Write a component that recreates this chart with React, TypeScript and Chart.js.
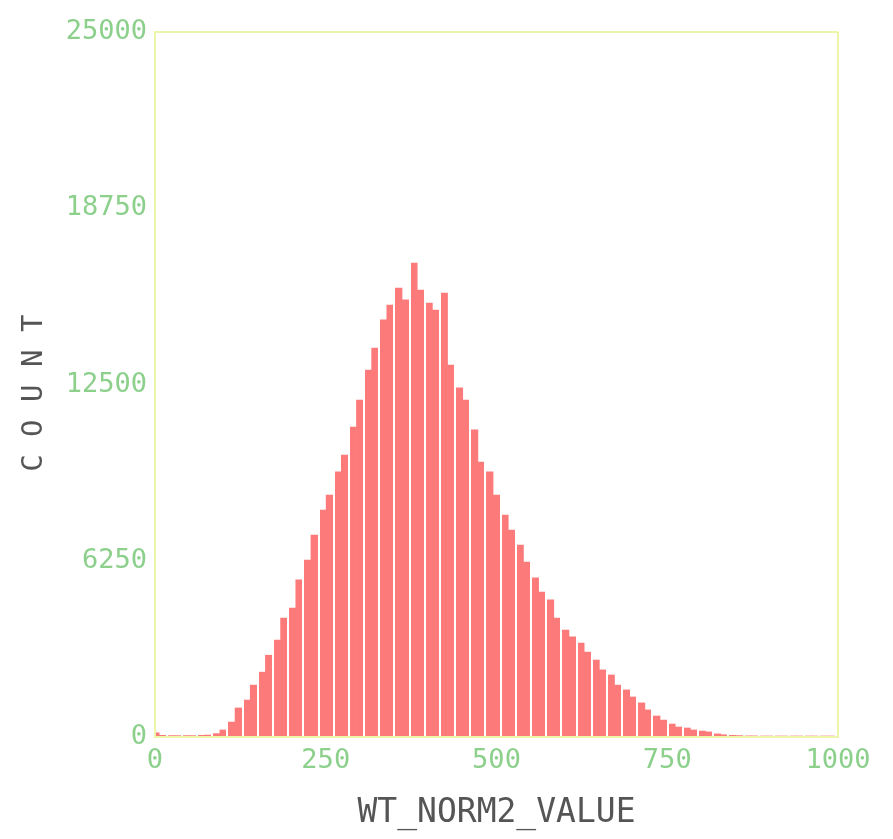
import { useEffect, useRef } from 'react';
import { Chart, registerables } from 'chart.js';

Chart.register(...registerables);

// Axis ranges and ticks
const X_MIN = 0;
const X_MAX = 1000;
const Y_MIN = 0;
const Y_MAX = 25000;
const X_TICKS = [0, 250, 500, 750, 1000];
const Y_TICKS = [0, 6250, 12500, 18750, 25000];

// Histogram bins (fine bins, white separators every GROUP_SIZE bins)
const BIN_START = -5;
const BIN_WIDTH = 1000 / 90;
const GROUP_SIZE = 2;

// Counts per fine bin
const COUNTS = [
  150, 60, 50, 50, 50, 50, 60, 70, 120, 250,
  530, 1030, 1310, 1840, 2300, 2900, 3440, 4220, 4570, 5570,
  6270, 7160, 8050, 8580, 9400, 10000, 10990, 11950, 13010, 13790,
  14790, 15320, 15920, 15500, 16810, 15850, 15390, 15140, 15740, 13190,
  12380, 11950, 10890, 9750, 9400, 8580, 7870, 7340, 6810, 6200,
  5640, 5140, 4860, 4220, 3790, 3550, 3330, 3010, 2730, 2380,
  2200, 1840, 1670, 1420, 1210, 960, 745, 600, 460, 355,
  320, 250, 210, 180, 110, 80, 60, 50, 40, 40,
  30, 30, 30, 25, 25, 20, 20, 20, 15, 15,
];

const X_TITLE = 'WT_NORM2_VALUE';
const Y_TITLE = 'C O U N T ';

const FRAME = 'rgb(236,245,168)';
const TICK_COLOR = 'rgb(140,208,140)';
const TITLE_COLOR = '#555555';
const BAR_COLOR = 'rgb(252,122,122)';

export default function App() {
  const ref = useRef<HTMLCanvasElement | null>(null);

  useEffect(() => {
    document.body.style.margin = '0';
    const canvas = ref.current;
    if (!canvas) return;

    const points = COUNTS.map((c, i) => ({ x: BIN_START + BIN_WIDTH * (i + 0.5), y: c }));
    const groupEdges: number[] = [];
    for (let i = GROUP_SIZE; i < COUNTS.length; i += GROUP_SIZE) {
      const e = BIN_START + BIN_WIDTH * i;
      if (e > X_MIN && e < X_MAX) groupEdges.push(e);
    }

    const chart = new Chart(canvas, {
      type: 'bar',
      data: {
        datasets: [
          {
            data: points,
            backgroundColor: BAR_COLOR,
            borderWidth: 0,
            barPercentage: 1,
            categoryPercentage: 1,
            xAxisID: 'x',
            yAxisID: 'y',
          },
        ],
      },
      options: {
        animation: false,
        responsive: true,
        maintainAspectRatio: false,
        layout: { padding: { left: 0, right: 55, top: 32, bottom: 0 } },
        plugins: { legend: { display: false }, tooltip: { enabled: false } },
        scales: {
          x: {
            type: 'linear',
            position: 'bottom',
            min: X_MIN,
            max: X_MAX,
            offset: false,
            afterBuildTicks: (s: any) => {
              s.ticks = X_TICKS.map((v) => ({ value: v }));
            },
            afterFit: (s: any) => {
              s.height = 102;
            },
            ticks: {
              color: TICK_COLOR,
              font: { family: 'DejaVu Sans Mono', size: 27 },
              padding: 8,
              maxRotation: 0,
              autoSkip: false,
              z: 2,
              callback: (v: any) => String(v),
            },
            grid: {
              offset: false,
              drawTicks: false,
              lineWidth: 2,
              z: 2,
              color: (ctx: any) => (ctx.tick && ctx.tick.value === X_MAX ? FRAME : 'rgba(0,0,0,0)'),
            },
            border: { color: FRAME, width: 2, z: 2 },
            title: {
              display: true,
              text: X_TITLE,
              color: TITLE_COLOR,
              font: { family: 'DejaVu Sans Mono', size: 33 },
              padding: { top: 0, bottom: 6 },
            },
          },
          xg: {
            type: 'linear',
            axis: 'x',
            position: 'bottom',
            min: X_MIN,
            max: X_MAX,
            offset: false,
            afterBuildTicks: (s: any) => {
              s.ticks = groupEdges.map((v) => ({ value: v }));
            },
            afterFit: (s: any) => {
              s.height = 0;
            },
            ticks: { display: false },
            grid: { offset: false, drawTicks: false, color: '#ffffff', lineWidth: 2, z: 1 },
            border: { display: false },
          },
          y: {
            type: 'linear',
            position: 'left',
            min: Y_MIN,
            max: Y_MAX,
            afterBuildTicks: (s: any) => {
              s.ticks = Y_TICKS.map((v) => ({ value: v }));
            },
            afterFit: (s: any) => {
              s.width = 155;
            },
            ticks: {
              color: TICK_COLOR,
              font: { family: 'DejaVu Sans Mono', size: 27 },
              padding: 8,
              autoSkip: false,
              z: 2,
              callback: (v: any) => String(v),
            },
            grid: {
              drawTicks: false,
              lineWidth: 2,
              z: 2,
              color: (ctx: any) => (ctx.tick && ctx.tick.value === Y_MAX ? FRAME : 'rgba(0,0,0,0)'),
            },
            border: { color: FRAME, width: 2, z: 2 },
            title: {
              display: true,
              text: Y_TITLE,
              color: TITLE_COLOR,
              font: { family: 'DejaVu Sans Mono', size: 29 },
              padding: { top: 17, bottom: 0 },
            },
          },
        },
      } as any,
    });

    return () => chart.destroy();
  }, []);

  return (
    <div style={{ width: 893, height: 839, position: 'relative' }}>
      <canvas ref={ref} style={{ display: 'block' }} />
    </div>
  );
}
